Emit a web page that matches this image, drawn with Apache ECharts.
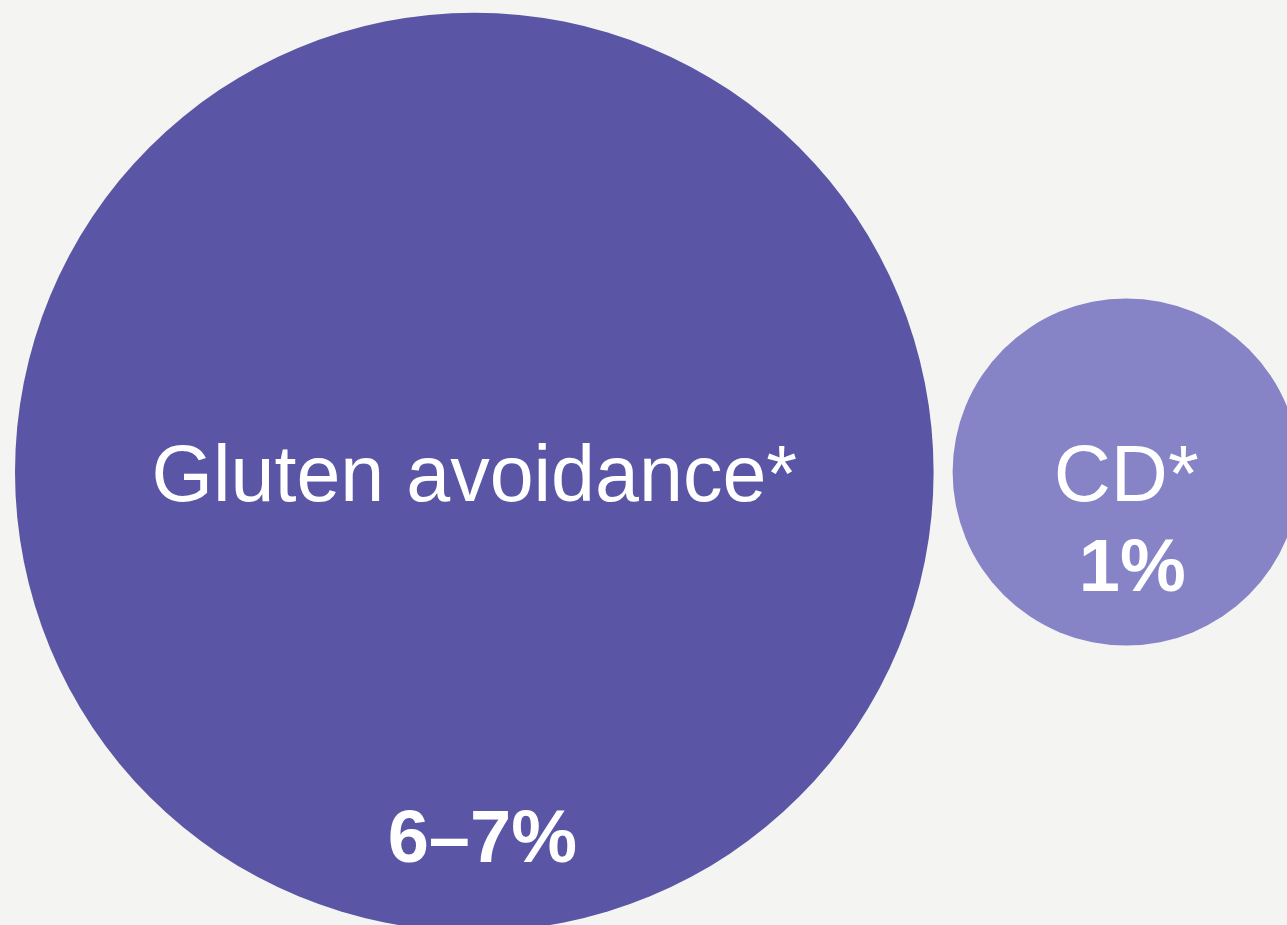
<!DOCTYPE html>
<html>
<head>
<meta charset="utf-8">
<script src="https://cdn.jsdelivr.net/npm/echarts@6/dist/echarts.min.js"></script>
<style>
html,body{margin:0;padding:0;background:#f4f5f2;}
#chart{width:1287px;height:925px;}
</style>
</head>
<body>
<div id="chart"></div>
<script>
// Data
var categories = ["Gluten avoidance*", "CD*"];
var valueLabels = ["6\u20137%", "1%"];
var sizeValues = [7, 1];          // relative prevalence (area ∝ value)
var colors = ["#5a55a5", "#8683c7"];

// Layout helpers (pixels)
var W = 1287, H = 925;
var unitRadius = 173.6;           // radius for value 1
var leftEdge = 15, gap = 19, centerY = 472;
var radii = sizeValues.map(function (v) { return unitRadius * Math.sqrt(v); });
var centersX = [];
var cursor = leftEdge;
radii.forEach(function (r, i) {
  centersX.push(cursor + r);
  cursor += 2 * r + gap;
});
var valueOffsets = [[8, 370], [6, 99]];

var circleData = categories.map(function (c, i) {
  return {
    name: c,
    value: [centersX[i], centerY, radii[i] * 2],
    itemStyle: { color: colors[i], opacity: 1 }
  };
});
var valueData = categories.map(function (c, i) {
  return {
    name: valueLabels[i],
    value: [centersX[i], centerY],
    label: { offset: valueOffsets[i] }
  };
});

var chart = echarts.init(document.getElementById('chart'), null, { renderer: 'canvas' });
chart.setOption({
  backgroundColor: '#f4f5f2',
  animation: false,
  grid: { left: 0, right: 0, top: 0, bottom: 0 },
  xAxis: { type: 'value', min: 0, max: W, show: false },
  yAxis: { type: 'value', min: 0, max: H, inverse: true, show: false },
  series: [
    {
      type: 'scatter',
      data: circleData,
      symbolSize: function (v) { return v[2]; },
      itemStyle: { opacity: 1 },
      label: {
        show: true,
        position: 'inside',
        formatter: '{b}',
        color: '#ffffff',
        opacity: 1,
        fontFamily: 'Liberation Sans, Arial, sans-serif',
        fontSize: 79,
        offset: [0, 7]
      },
      emphasis: { disabled: true },
      silent: true
    },
    {
      type: 'scatter',
      data: valueData,
      symbolSize: 0,
      itemStyle: { opacity: 1 },
      label: {
        show: true,
        position: 'inside',
        formatter: '{b}',
        color: '#ffffff',
        opacity: 1,
        fontFamily: 'Liberation Sans, Arial, sans-serif',
        fontWeight: 'bold',
        fontSize: 74
      },
      emphasis: { disabled: true },
      silent: true
    }
  ]
});
</script>
</body>
</html>
